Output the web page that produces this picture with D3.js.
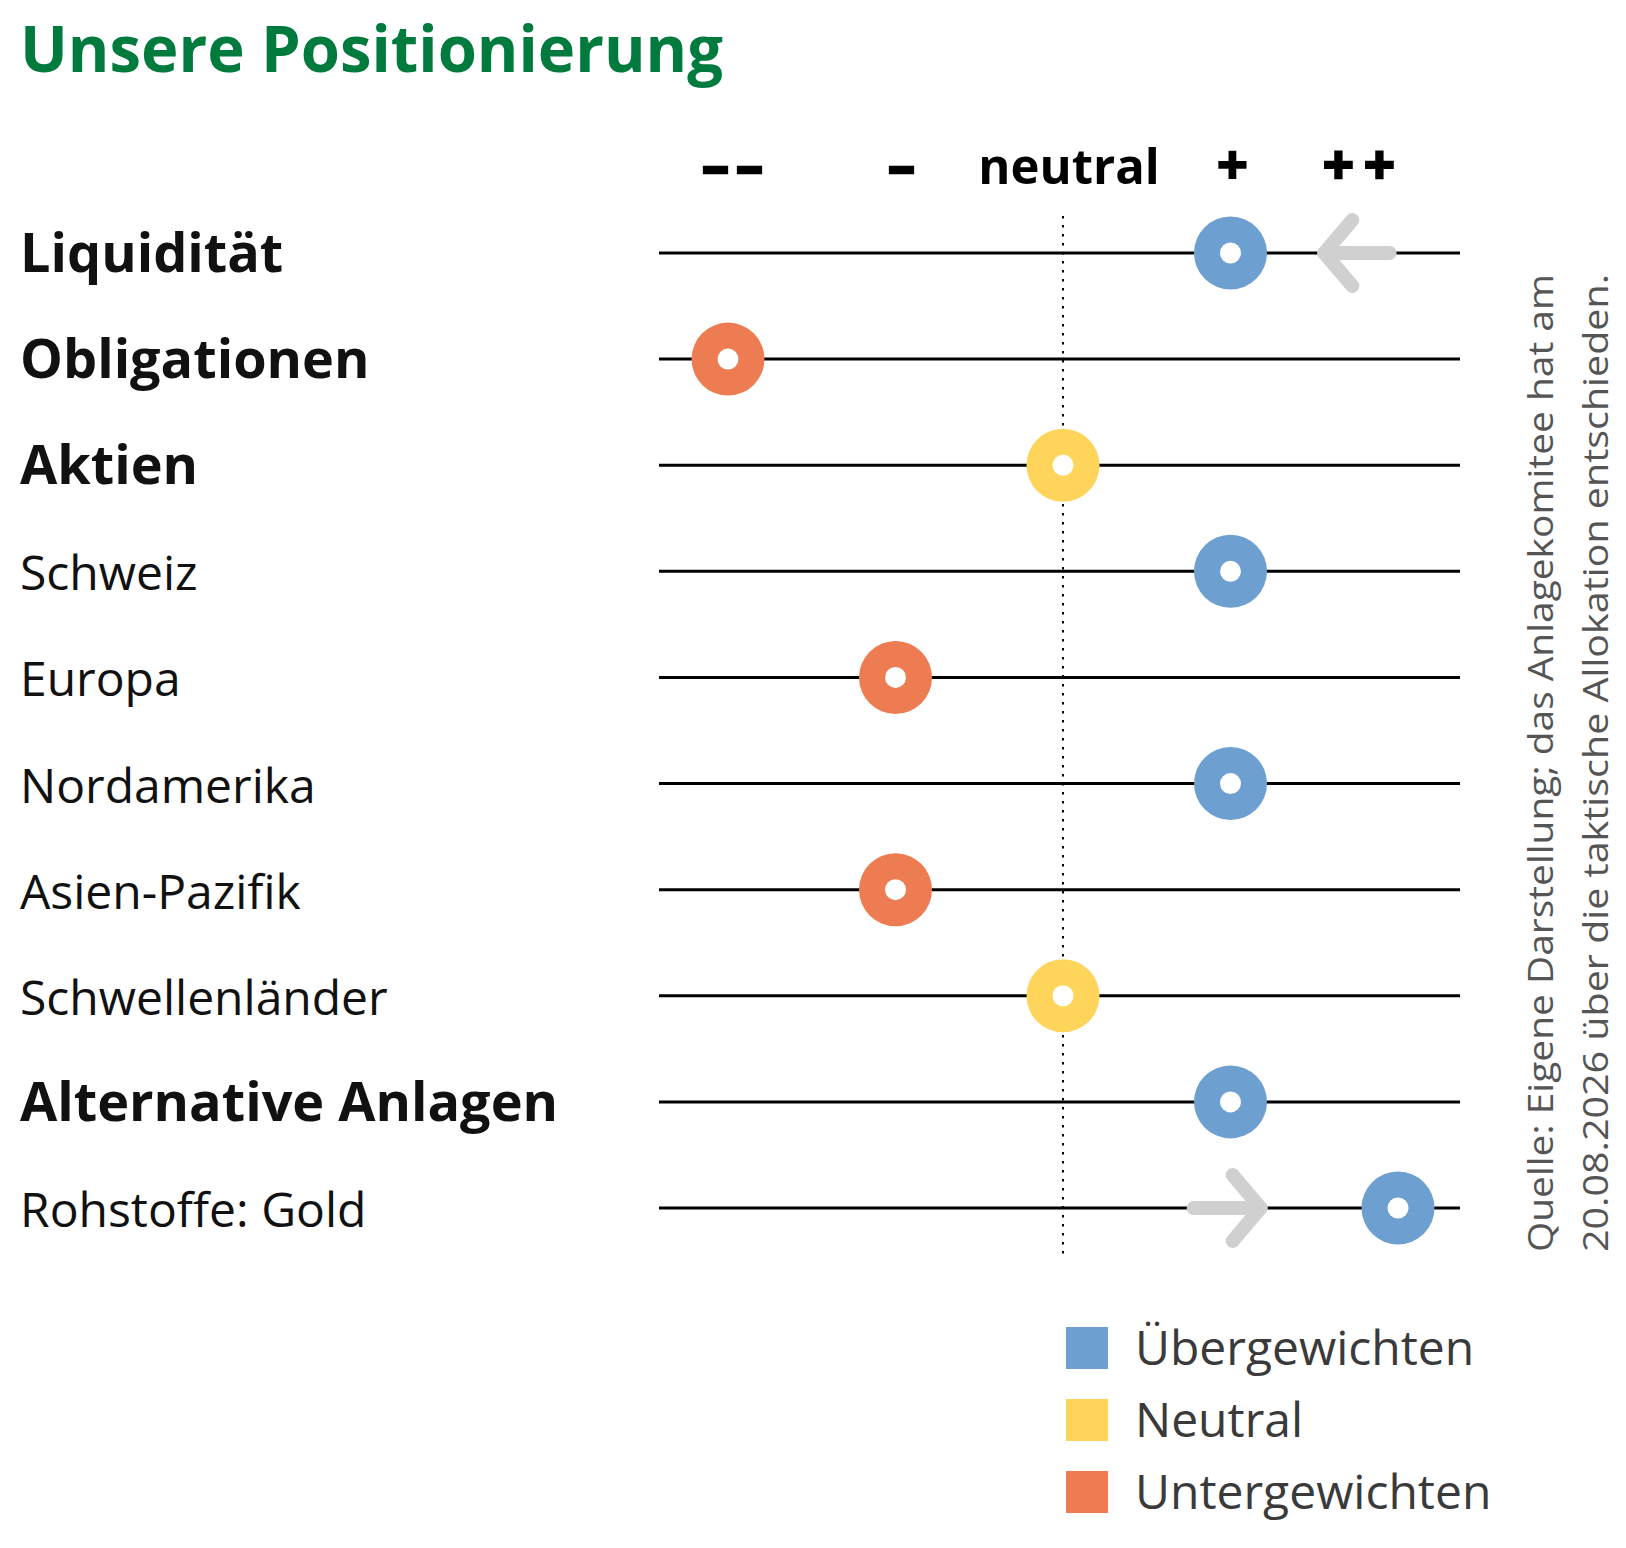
<!DOCTYPE html>
<html>
<head>
<meta charset="utf-8">
<script src="https://cdn.jsdelivr.net/npm/d3@7"></script>
<style>
  body { margin: 0; background: #fff; }
  svg { display: block; }
</style>
</head>
<body>
<script>
// rows, top to bottom
var categories = ["Liquidität", "Obligationen", "Aktien", "Schweiz", "Europa",
  "Nordamerika", "Asien-Pazifik", "Schwellenländer", "Alternative Anlagen", "Rohstoffe: Gold"];
var mainClass = [true, true, true, false, false, false, false, false, true, false];
// -2 = "--" ... +2 = "++"
var positions = [1, -2, 0, 1, -1, 1, -1, 0, 1, 2];
var tickValues = [-2, -1, 0, 1, 2];
var tickLabels = ["\u2013\u2013", "\u2013", "neutral", "+", "++"];
// grey arrows: change since last decision
var shiftRows = ["Liquidität", "Rohstoffe: Gold"];
var shiftFrom = [1.95, 0.78];
var shiftTo = [1.56, 1.18];
var legendLabels = ["Übergewichten", "Neutral", "Untergewichten"];
var legendColors = ["#6d9fd0", "#ffd45a", "#ee7c52"];
var sourceLines = ["Quelle: Eigene Darstellung; das Anlagekomitee hat am",
  "20.08.2026 über die taktische Allokation entschieden."];

var W = 1626, H = 1548;
var font = "'Open Sans', 'Noto Sans', sans-serif";

var svg = d3.select("body").append("svg")
    .attr("width", W)
    .attr("height", H)
    .style("font-family", font);

var x = d3.scaleLinear().domain([-2, 2]).range([728, 1398]);
var y = d3.scalePoint().domain(categories).range([253, 1208]);

function color(v) {
  return v > 0 ? legendColors[0] : (v < 0 ? legendColors[2] : legendColors[1]);
}

// title
svg.append("text")
    .attr("x", 20)
    .attr("y", 72)
    .attr("fill", "#007a3d")
    .attr("font-weight", 700)
    .attr("font-size", 65)
    .attr("textLength", 703)
    .attr("lengthAdjust", "spacingAndGlyphs")
    .text("Unsere Positionierung");

// column heads (symbols a little heavier than the word)
var headDx = [8, 6, 6, 2, -34];
svg.selectAll(".head")
    .data(tickValues)
  .enter().append("text")
    .attr("class", "head")
    .attr("x", function(d) { return x(d); })
    .attr("dx", function(d, i) { return headDx[i]; })
    .attr("y", 184)
    .attr("text-anchor", "middle")
    .attr("font-weight", 700)
    .attr("fill", "#000")
    .attr("font-size", function(d, i) { return d === 0 ? 49 : 54; })
    .attr("stroke", "#000")
    .attr("stroke-width", function(d) { return d === 0 ? 0 : (Math.abs(d) === 2 || d < 0 ? 2.6 : 2); })
    .attr("letter-spacing", function(d) { return d === 2 ? 10 : (d === -2 ? 7 : 0); })
    .text(function(d, i) { return tickLabels[i]; });

// row labels
svg.selectAll(".label")
    .data(categories)
  .enter().append("text")
    .attr("class", "label")
    .attr("x", 20)
    .attr("y", function(d) { return y(d) + 19; })
    .attr("font-weight", function(d, i) { return mainClass[i] ? 700 : 400; })
    .attr("font-size", function(d, i) { return mainClass[i] ? 54 : 48; })
    .attr("fill", "#111")
    .text(function(d) { return d; });

// row lines
svg.selectAll(".row")
    .data(categories)
  .enter().append("line")
    .attr("class", "row")
    .attr("x1", 659)
    .attr("x2", 1460)
    .attr("y1", function(d) { return y(d); })
    .attr("y2", function(d) { return y(d); })
    .attr("stroke", "#000")
    .attr("stroke-width", 3);

// neutral dotted line
svg.append("line")
    .attr("x1", x(0))
    .attr("x2", x(0))
    .attr("y1", y(categories[0]) - 37)
    .attr("y2", y(categories[categories.length - 1]) + 52)
    .attr("stroke", "#000")
    .attr("stroke-width", 2)
    .attr("stroke-dasharray", "2.5,6.5");

// shift arrows
var shifts = shiftRows.map(function(r, i) { return { row: r, from: shiftFrom[i], to: shiftTo[i] }; });
var arrows = svg.selectAll(".arrow")
    .data(shifts)
  .enter().append("g")
    .attr("class", "arrow")
    .attr("fill", "none")
    .attr("stroke", "#d0d0d0")
    .attr("stroke-width", 14)
    .attr("stroke-linecap", "round")
    .attr("stroke-linejoin", "round");
arrows.append("line")
    .attr("x1", function(d) { return x(d.from); })
    .attr("x2", function(d) { return x(d.to); })
    .attr("y1", function(d) { return y(d.row); })
    .attr("y2", function(d) { return y(d.row); });
arrows.append("path")
    .attr("d", function(d) {
      var hx = x(d.to), hy = y(d.row), s = d.to > d.from ? -1 : 1;
      return d3.line()([[hx + s * 28, hy - 33], [hx, hy], [hx + s * 28, hy + 33]]);
    });

// position markers
var marks = svg.selectAll(".mark")
    .data(categories)
  .enter().append("g")
    .attr("class", "mark")
    .attr("transform", function(d, i) { return "translate(" + x(positions[i]) + "," + y(d) + ")"; });
marks.append("circle")
    .attr("r", 36.5)
    .attr("fill", function(d, i) { return color(positions[i]); });
marks.append("circle")
    .attr("r", 10.5)
    .attr("fill", "#fff");

// legend
var legend = svg.selectAll(".legend")
    .data(legendLabels)
  .enter().append("g")
    .attr("class", "legend")
    .attr("transform", function(d, i) { return "translate(1066," + (1327 + i * 72) + ")"; });
legend.append("rect")
    .attr("width", 42)
    .attr("height", 42)
    .attr("fill", function(d, i) { return legendColors[i]; });
legend.append("text")
    .attr("x", 69)
    .attr("y", 38)
    .attr("font-size", 48)
    .attr("fill", "#3a3a3a")
    .text(function(d) { return d; });

// source note, rotated
svg.selectAll(".source")
    .data(sourceLines)
  .enter().append("text")
    .attr("class", "source")
    .attr("transform", function(d, i) { return "translate(" + (1553 + i * 55) + ",1252) rotate(-90)"; })
    .attr("font-size", 34)
    .attr("fill", "#555")
    .attr("textLength", 978)
    .attr("lengthAdjust", "spacingAndGlyphs")
    .text(function(d) { return d; });
</script>
</body>
</html>
